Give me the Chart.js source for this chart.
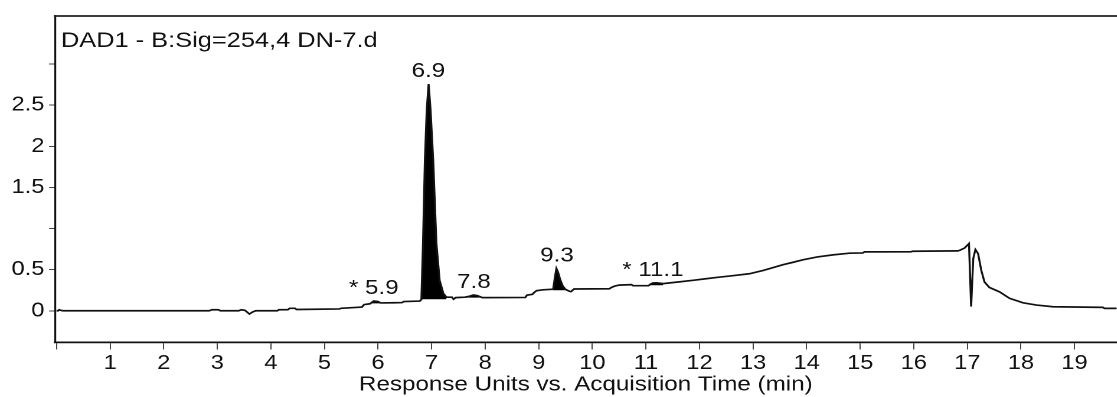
<!DOCTYPE html>
<html>
<head>
<meta charset="utf-8">
<script src="https://cdn.jsdelivr.net/npm/chart.js@4.4.1/dist/chart.umd.min.js"></script>
<style>
  html, body { margin: 0; padding: 0; background: #fff; overflow: hidden; }
  /* the instrument export is drawn slightly wide: stretch the chart horizontally */
  #wrap { position: relative; width: 946.6px; height: 397px; transform: scaleX(1.18); transform-origin: 0 0; }
</style>
</head>
<body>
<div id="wrap"><canvas id="c"></canvas></div>
<script>
// DAD1 254 nm trace: retention time (min) and response (units)
const rtMin = [
  0.00, 0.03, 0.05, 0.08, 0.12, 2.85, 2.90, 3.02, 3.06, 3.40,
  3.45, 3.52, 3.60, 3.66, 3.72, 4.12, 4.15, 4.32, 4.35, 4.45,
  4.48, 5.28, 5.31, 5.70, 5.74, 5.85, 5.92, 6.00, 6.05, 6.30,
  6.45, 6.48, 6.78, 6.81, 6.84, 6.875, 6.91, 6.945, 6.98, 7.03,
  7.09, 7.15, 7.22, 7.28, 7.38, 7.41, 7.45, 7.62, 7.70, 7.78,
  7.85, 7.95, 8.75, 8.78, 8.88, 8.92, 8.96, 9.08, 9.27, 9.30,
  9.33, 9.36, 9.40, 9.45, 9.50, 9.56, 9.60, 9.66, 10.32, 10.36,
  10.42, 10.50, 10.73, 10.76, 11.05, 11.08, 11.13, 11.20, 11.32, 11.60,
  11.88, 12.10, 12.32, 12.60, 12.93, 13.19, 13.40, 13.56, 13.75, 13.93,
  14.20, 14.49, 14.80, 15.05, 15.08, 15.95, 15.98, 16.82, 16.86, 16.95,
  17.03, 17.07, 17.11, 17.15, 17.20, 17.26, 17.32, 17.41, 17.60, 17.79,
  18.04, 18.29, 18.60, 19.53, 19.56, 19.80
];
const signalRU = [
  0.000, 0.000, 0.012, 0.005, 0.000, 0.000, 0.012, 0.012, 0.000, 0.000,
  0.012, 0.005, -0.040, -0.015, 0.000, 0.000, 0.012, 0.014, 0.030, 0.030,
  0.015, 0.022, 0.030, 0.045, 0.075, 0.085, 0.118, 0.112, 0.095, 0.097,
  0.100, 0.112, 0.118, 0.138, 0.820, 1.830, 2.450, 2.757, 2.450, 1.830,
  0.820, 0.370, 0.210, 0.165, 0.165, 0.140, 0.160, 0.165, 0.175, 0.192,
  0.185, 0.160, 0.162, 0.190, 0.200, 0.225, 0.245, 0.255, 0.262, 0.400,
  0.514, 0.470, 0.380, 0.300, 0.260, 0.240, 0.232, 0.265, 0.268, 0.285,
  0.300, 0.312, 0.318, 0.305, 0.305, 0.322, 0.338, 0.340, 0.330, 0.350,
  0.370, 0.388, 0.405, 0.425, 0.450, 0.490, 0.530, 0.560, 0.590, 0.620,
  0.655, 0.680, 0.700, 0.703, 0.716, 0.718, 0.724, 0.728, 0.736, 0.764,
  0.817, 0.050, 0.635, 0.745, 0.695, 0.490, 0.350, 0.284, 0.230, 0.150,
  0.097, 0.069, 0.049, 0.041, 0.029, 0.029
];

// axis ticks
const xTickValues = [0, 1, 2, 3, 4, 5, 6, 7, 8, 9, 10, 11, 12, 13, 14, 15, 16, 17, 18, 19];
const xTickLabels = ['', '1', '2', '3', '4', '5', '6', '7', '8', '9', '10', '11', '12', '13', '14', '15', '16', '17', '18', '19'];
const yTickValues = [0, 0.5, 1, 1.5, 2, 2.5, 3];
const yTickLabels = ['0', '0.5', '', '1.5', '2', '2.5', ''];

// integrated peaks: apex retention time, label prefix, integration window and baseline
const peakRT = [5.92, 6.94, 7.79, 9.34, 11.13];
const peakPrefix = ['* ', '', '', '', '* '];
const fillStart = [5.85, 6.81, 7.45, 9.27, 11.05];
const fillEnd = [6.05, 7.30, 7.95, 9.58, 11.32];
const fillBase = [0.09, 0.14, 0.16, 0.25, 0.31];

const signalTitle = 'DAD1 - B:Sig=254,4 DN-7.d';
const xTitle = 'Response Units vs. Acquisition Time (min)';

const FONT = '"Liberation Sans", Arial, sans-serif';
const INK = '#111';

const trace = rtMin.map((t, i) => ({ x: t, y: signalRU[i] }));

const peakFills = fillStart.map((s, k) => ({
  data: trace.filter(p => p.x >= s && p.x <= fillEnd[k]),
  borderWidth: 0,
  pointRadius: 0,
  backgroundColor: '#000',
  fill: { value: fillBase[k] },
  tension: 0
}));

const annotations = {
  id: 'annotations',
  afterDatasetsDraw(chart) {
    const { ctx, chartArea, scales: { x, y } } = chart;
    ctx.save();
    // frame top edge
    ctx.strokeStyle = '#222';
    ctx.lineWidth = 1.8;
    ctx.beginPath();
    ctx.moveTo(chartArea.left - 1, chartArea.top);
    ctx.lineTo(chart.width, chartArea.top);
    ctx.stroke();
    // signal header
    ctx.fillStyle = INK;
    ctx.font = '21.5px ' + FONT;
    ctx.textAlign = 'left';
    ctx.textBaseline = 'alphabetic';
    ctx.fillText(signalTitle, chartArea.left + 5, chartArea.top + 31);
    // retention time labels above each apex
    ctx.font = '20.5px ' + FONT;
    ctx.textAlign = 'center';
    peakRT.forEach((rt, i) => {
      let top = -Infinity;
      rtMin.forEach((t, j) => { if (Math.abs(t - rt) <= 0.08) top = Math.max(top, signalRU[j]); });
      ctx.fillText(peakPrefix[i] + rt.toFixed(1), x.getPixelForValue(rt), y.getPixelForValue(top) - 7);
    });
    ctx.restore();
  }
};

new Chart(document.getElementById('c'), {
  type: 'line',
  data: {
    datasets: [
      {
        data: trace,
        borderColor: '#111',
        borderWidth: 1.7,
        pointRadius: 0,
        fill: false,
        tension: 0
      },
      ...peakFills
    ]
  },
  options: {
    responsive: true,
    maintainAspectRatio: false,
    devicePixelRatio: 2,
    animation: false,
    layout: { padding: { top: 15, left: 0, right: 0, bottom: 0 } },
    plugins: { legend: { display: false }, tooltip: { enabled: false } },
    scales: {
      x: {
        type: 'linear',
        min: -0.028,
        max: 19.785,
        afterBuildTicks: s => { s.ticks = xTickValues.map(v => ({ value: v })); },
        afterFit: s => { s.height = 54.5; },
        ticks: {
          autoSkip: false,
          maxRotation: 0,
          padding: 2,
          color: INK,
          font: { family: FONT, size: 20 },
          callback: (v, i) => xTickLabels[i]
        },
        grid: { drawOnChartArea: false, drawTicks: true, tickLength: 7, tickColor: '#444', lineWidth: 1 },
        border: { display: true, color: '#111', width: 1.8 },
        title: {
          display: true,
          text: xTitle,
          color: INK,
          font: { family: FONT, size: 20.5 },
          padding: { top: 0, bottom: 0 }
        }
      },
      y: {
        min: -0.386,
        max: 3.585,
        afterBuildTicks: s => { s.ticks = yTickValues.map(v => ({ value: v })); },
        afterFit: s => { s.width = 46.6; },
        ticks: {
          padding: 4,
          color: INK,
          font: { family: FONT, size: 20 },
          callback: (v, i) => yTickLabels[i]
        },
        grid: { drawOnChartArea: false, drawTicks: true, tickLength: 5, tickColor: '#444', lineWidth: 1 },
        border: { display: true, color: '#111', width: 1.6 }
      }
    }
  },
  plugins: [annotations]
});
</script>
</body>
</html>
